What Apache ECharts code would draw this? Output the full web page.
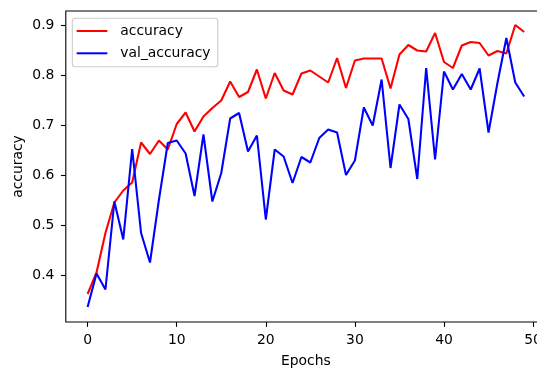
<!DOCTYPE html>
<html>
<head>
<meta charset="utf-8">
<script src="https://cdn.jsdelivr.net/npm/echarts@6/dist/echarts.min.js"></script>
<style>
html,body{margin:0;padding:0;background:#fff;}
#chart{width:537px;height:369px;}
</style>
</head>
<body>
<div id="chart"></div>
<script>
var epochs = [];
for (var e = 0; e < 50; e++) epochs.push(e);
var accuracy = [0.362,0.405,0.484,0.545,0.569,0.585,0.665,0.642,0.669,0.651,
  0.702,0.725,0.687,0.717,0.734,0.749,0.787,0.756,0.766,0.811,
  0.753,0.804,0.769,0.761,0.803,0.809,0.797,0.785,0.834,0.774,
  0.829,0.833,0.833,0.833,0.773,0.841,0.860,0.849,0.847,0.884,
  0.826,0.814,0.859,0.866,0.864,0.839,0.848,0.843,0.900,0.886];
var valAccuracy = [0.336,0.403,0.371,0.547,0.471,0.652,0.484,0.425,0.550,0.664,
  0.669,0.643,0.558,0.681,0.547,0.604,0.713,0.724,0.647,0.679,
  0.511,0.651,0.637,0.584,0.636,0.625,0.674,0.691,0.685,0.600,
  0.629,0.735,0.699,0.791,0.614,0.741,0.712,0.592,0.814,0.631,
  0.807,0.771,0.802,0.771,0.813,0.685,0.784,0.874,0.785,0.757];
var xTicks = [0,10,20,30,40,50];
var yTicks = [0.4,0.5,0.6,0.7,0.8,0.9];

function pairs(vals){ return vals.map(function(v,i){ return [epochs[i], v]; }); }

var FONT = 'DejaVu Sans';
var FS = 13.9;
var chart = echarts.init(document.getElementById('chart'), null, {renderer:'canvas'});
chart.setOption({
  animation:false,
  backgroundColor:'#fff',
  grid:{left:65.8, top:11, right:-9, bottom:47, outerBoundsMode:'none', containLabel:false,
        show:true, borderColor:'#000', borderWidth:1.1, backgroundColor:'transparent'},
  legend:{
    left:72.3, top:18.3, orient:'vertical', selectedMode:false,
    itemWidth:30.6, itemHeight:2, itemGap:6.3,
    padding:[4.7,7.3,5.4,4.4],
    backgroundColor:'rgba(255,255,255,0.8)', borderColor:'#cccccc', borderWidth:1.1, borderRadius:3,
    textStyle:{fontFamily:FONT, fontSize:FS, color:'#000', lineHeight:16, padding:[0,0,0,8]},
    data:[{name:'accuracy', icon:'rect'},{name:'val_accuracy', icon:'rect'}]
  },
  xAxis:{
    type:'value', min:-2.45, max:51.45,
    name:'Epochs', nameLocation:'middle', nameGap:32.5, nameMoveOverlap:false,
    nameTextStyle:{fontFamily:FONT, fontSize:FS, color:'#000', lineHeight:14},
    axisLine:{show:false, onZero:false},
    splitLine:{show:false},
    axisTick:{show:true, length:4.9, customValues:xTicks, lineStyle:{color:'#000', width:1.1}},
    axisLabel:{customValues:xTicks, margin:11, fontFamily:FONT, fontSize:FS, color:'#000', lineHeight:14,
      hideOverlap:false}
  },
  yAxis:{
    type:'value', min:0.306, max:0.928,
    name:'accuracy', nameLocation:'middle', nameRotate:90, nameGap:40, nameMoveOverlap:false,
    nameTextStyle:{fontFamily:FONT, fontSize:FS, color:'#000', lineHeight:14},
    axisLine:{show:false, onZero:false},
    splitLine:{show:false},
    axisTick:{show:true, length:4.9, customValues:yTicks, lineStyle:{color:'#000', width:1.1}},
    axisLabel:{customValues:yTicks, margin:11.4, fontFamily:FONT, fontSize:FS, color:'#000',
      formatter:function(v){ return v.toFixed(1); }}
  },
  series:[
    {name:'accuracy', type:'line', data:pairs(accuracy), showSymbol:false, symbol:'none',
     lineStyle:{color:'#ff0000', width:2.08}, itemStyle:{color:'#ff0000'}},
    {name:'val_accuracy', type:'line', data:pairs(valAccuracy), showSymbol:false, symbol:'none',
     lineStyle:{color:'#0000ff', width:2.08}, itemStyle:{color:'#0000ff'}}
  ]
});
</script>
</body>
</html>
